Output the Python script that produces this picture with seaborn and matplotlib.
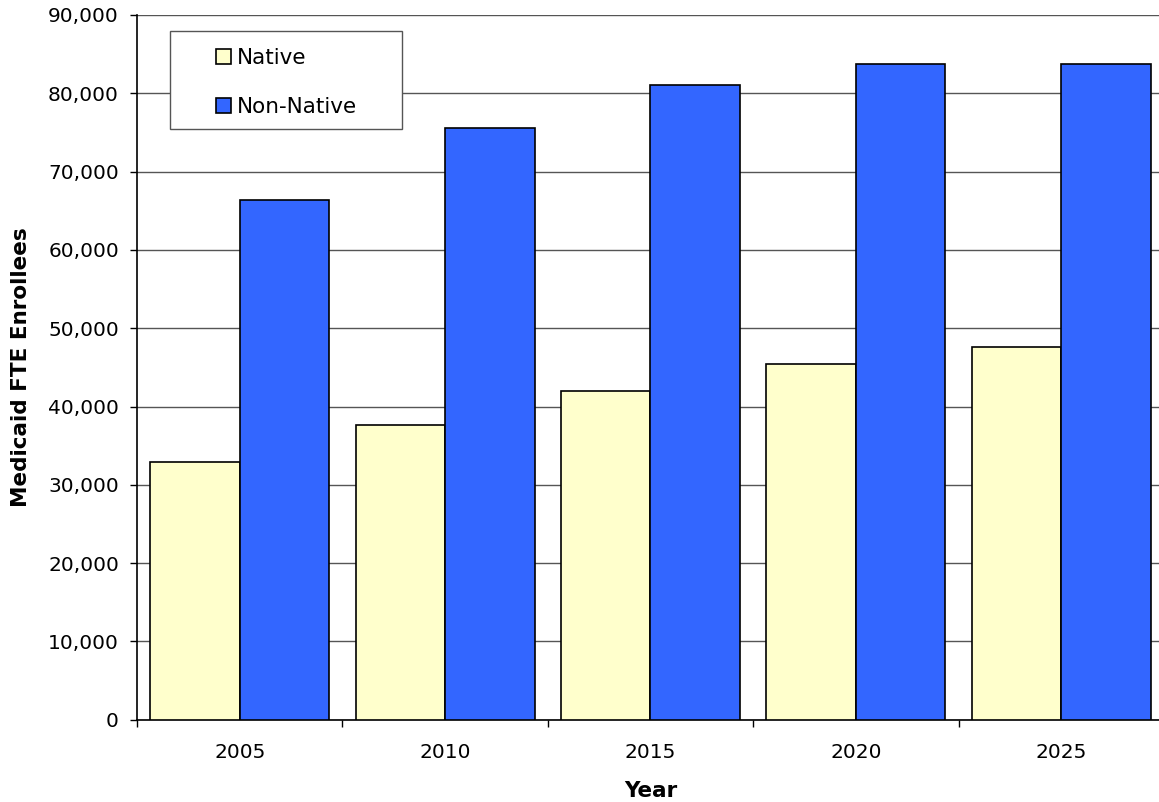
import numpy as np
import pandas as pd
import seaborn as sns
import matplotlib.pyplot as plt
from matplotlib.patches import Rectangle
from matplotlib.ticker import FuncFormatter, FixedLocator

# values
years = ["2005", "2010", "2015", "2020", "2025"]
native = [32900, 37700, 42000, 45400, 47600]
non_native = [66400, 75600, 81100, 83700, 83800]
groups = ["Native", "Non-Native"]
colors = ["#FFFFCC", "#3366FF"]

df = pd.DataFrame({
    "Year": years * 2,
    "Group": [groups[0]] * len(years) + [groups[1]] * len(years),
    "Enrollees": native + non_native,
})

sns.set_theme(style="white")
plt.rcParams["font.family"] = ["DejaVu Sans"]
plt.rcParams["text.color"] = "black"

fig = plt.figure(figsize=(11.59, 8.02), dpi=100)
ax = fig.add_axes([0.1182, 0.1026, 0.8861, 0.8787])

sns.barplot(data=df, x="Year", y="Enrollees", hue="Group", palette=colors,
            width=0.872, edgecolor="black", linewidth=1.2, saturation=1,
            ax=ax, zorder=3)

ax.set_xlim(-0.5, len(years) - 0.5)
ax.set_ylim(0, 90000)
ax.set_yticks(np.arange(0, 90001, 10000))
ax.yaxis.set_major_formatter(FuncFormatter(lambda v, p: f"{int(v):,}"))
ax.grid(axis="y", color="#555555", linewidth=1.0, zorder=0)
ax.set_axisbelow(True)

# group boundaries get the tick marks, labels sit in the middle
ax.xaxis.set_minor_locator(FixedLocator(np.arange(-0.5, len(years), 1.0)))
ax.tick_params(axis="x", which="major", length=0, pad=16.5, labelsize=14.5, colors="black")
ax.tick_params(axis="x", which="minor", length=5, width=1, color="black", bottom=True)
ax.tick_params(axis="y", which="major", length=5, width=1, color="black", left=True,
               pad=8, labelsize=14.5, labelcolor="black")

for s in ["top", "right"]:
    ax.spines[s].set_visible(False)
for s in ["left", "bottom"]:
    ax.spines[s].set_color("black")
    ax.spines[s].set_linewidth(1.2)

ax.set_xlabel("Year", fontsize=15.5, fontweight="bold", labelpad=14, color="black")
ax.set_ylabel("Medicaid FTE Enrollees", fontsize=15.5, fontweight="bold", labelpad=12, color="black")

# legend box drawn by hand, entries placed inside
ax.add_patch(Rectangle((0.0321, 0.8382), 0.2259, 0.1391, transform=ax.transAxes,
                       facecolor="white", edgecolor="#555555", linewidth=1.0, zorder=5))
ax.get_legend().remove()
handles = [Rectangle((0, 0), 1, 1, facecolor=c, edgecolor="black", linewidth=1.2) for c in colors]
leg = ax.legend(handles, groups, loc="upper left", bbox_to_anchor=(0.0769, 0.953),
                frameon=False, fontsize=15.5, handlelength=0.7, handleheight=0.7,
                handletextpad=0.25, labelspacing=1.34, borderpad=0, borderaxespad=0,
                labelcolor="black")
leg.set_zorder(6)

fig.savefig("out.png", dpi=100)
